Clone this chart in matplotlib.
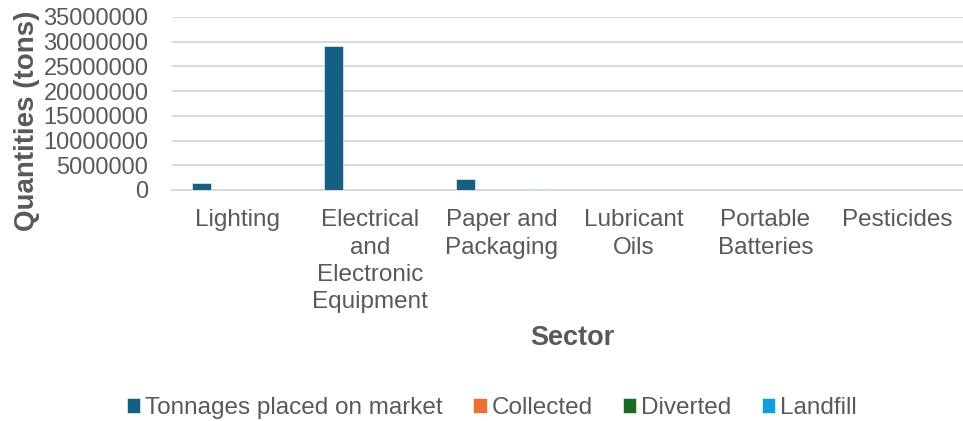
import matplotlib
matplotlib.use("Agg")
import matplotlib.pyplot as plt
import numpy as np

plt.rcParams['font.family'] = ['Liberation Sans', 'DejaVu Sans']

sectors = ["Lighting", "Electrical\nand\nElectronic\nEquipment", "Paper and\nPackaging",
           "Lubricant\nOils", "Portable\nBatteries", "Pesticides"]
series_names = ["Tonnages placed on market", "Collected", "Diverted", "Landfill"]
placed_on_market = [1350000, 29100000, 2200000, 0, 0, 0]
collected = [0, 0, 0, 0, 0, 0]
diverted = [0, 0, 0, 0, 0, 0]
landfill = [0, 0, 150000, 0, 0, 0]
yticks = [0, 5000000, 10000000, 15000000, 20000000, 25000000, 30000000, 35000000]

colors = ["#156082", "#E97132", "#196B24", "#0F9ED5"]
text_color = "#595959"
grid_color = "#D9D9D9"

fig = plt.figure(figsize=(9.63, 4.21), dpi=100)
ax = fig.add_axes([172 / 963, 1 - 190 / 421, 1 - 172 / 963, (190 - 17) / 421])

x = np.arange(len(sectors))
step = 0.184
width = 0.144
all_series = [placed_on_market, collected, diverted, landfill]
for i, (vals, name, col) in enumerate(zip(all_series, series_names, colors)):
    ax.bar(x + (i - 1.5) * step, vals, width=width, color=col, label=name,
           edgecolor="white", linewidth=0.4, zorder=3)

ax.set_xlim(-0.5, len(sectors) - 0.5)
ax.set_ylim(0, 35000000)
ax.set_yticks(yticks)
ax.set_yticklabels([str(v) for v in yticks])
ax.set_xticks(x)
ax.set_xticklabels(sectors, linespacing=1.3)

ax.yaxis.grid(True, color=grid_color, linewidth=1.4, zorder=0)
ax.set_axisbelow(True)
for s in ["top", "right", "left"]:
    ax.spines[s].set_visible(False)
ax.spines["bottom"].set_color(grid_color)
ax.spines["bottom"].set_linewidth(1.4)
ax.tick_params(axis="y", length=0, colors=text_color, labelsize=17, pad=17)
ax.tick_params(axis="x", length=0, colors=text_color, labelsize=17.5, pad=14)

ax.set_ylabel("Quantities (tons)", fontsize=20, fontweight="bold", color=text_color)
ax.yaxis.set_label_coords(-0.167, 0.40)
fig.text(572 / 963, 1 - 338 / 421, "Sector", fontsize=19.5, fontweight="bold",
         color=text_color, ha="center", va="center")

fig.legend(loc="center", bbox_to_anchor=(492 / 963, 1 - 408 / 421), ncol=4,
           frameon=False, fontsize=17.5, handlelength=0.55, handleheight=0.55,
           handletextpad=0.2, columnspacing=1.25, labelcolor=text_color)

fig.savefig("out.png", dpi=100)
